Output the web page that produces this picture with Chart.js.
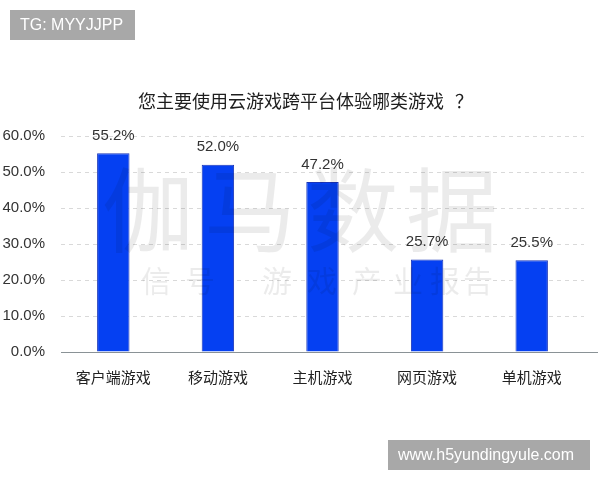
<!DOCTYPE html>
<html>
<head>
<meta charset="utf-8">
<script src="https://cdn.jsdelivr.net/npm/chart.js@4.4.0/dist/chart.umd.min.js"></script>
<style>
html,body{margin:0;padding:0;background:#fff;}
canvas{display:block;}
</style>
</head>
<body>
<canvas id="c" width="600" height="480"></canvas>
<script>
const categories = ['客户端游戏', '移动游戏', '主机游戏', '网页游戏', '单机游戏'];
const shares = [55.2, 52.0, 47.2, 25.7, 25.5];
const yTicks = [0, 10, 20, 30, 40, 50, 60];
const titleText = '您主要使用云游戏跨平台体验哪类游戏';
const titleMark = '？';
const tagText = 'TG: MYYJJPP';
const siteText = 'www.h5yundingyule.com';

const CJK = '"Noto Sans CJK SC", "Noto Sans", sans-serif';
const NUM = '"Liberation Sans", Arial, sans-serif';

const extras = {
  id: 'extras',
  beforeDraw(chart) {
    const ctx = chart.ctx;
    ctx.save();
    ctx.fillStyle = '#fff';
    ctx.fillRect(0, 0, chart.width, chart.height);
    ctx.restore();
  },
  afterDatasetsDraw(chart) {
    const ctx = chart.ctx;
    const meta = chart.getDatasetMeta(0);
    ctx.save();
    // data labels
    ctx.fillStyle = '#333';
    ctx.font = '15px ' + NUM;
    ctx.textAlign = 'center';
    ctx.textBaseline = 'bottom';
    meta.data.forEach((bar, i) => {
      ctx.fillText(shares[i].toFixed(1) + '%', bar.x, bar.y - 10);
    });
    // baseline extended
    const ys = chart.scales.y;
    const y0 = Math.round(ys.getPixelForValue(0)) + 0.5;
    ctx.strokeStyle = '#8a9296';
    ctx.lineWidth = 1.2;
    ctx.beginPath();
    ctx.moveTo(chart.chartArea.left, y0);
    ctx.lineTo(598, y0);
    ctx.stroke();
    // watermark
    ctx.fillStyle = 'rgba(0,0,0,0.08)';
    ctx.textBaseline = 'middle';
    ctx.font = '92px ' + CJK;
    const big = ['伽', '马', '数', '据'];
    const bigX = [148, 250, 353, 452];
    big.forEach((ch, i) => ctx.fillText(ch, bigX[i], 210));
    ctx.font = '30px ' + CJK;
    const small = ['信', '号', '游', '戏', '产', '业', '报', '告'];
    const smallX = [156, 200, 277, 322, 367, 408, 445, 478];
    small.forEach((ch, i) => ctx.fillText(ch, smallX[i], 281));
    ctx.restore();
  },
  afterDraw(chart) {
    const ctx = chart.ctx;
    ctx.save();
    // title
    ctx.fillStyle = '#1e1e1e';
    ctx.font = '18px ' + CJK;
    ctx.textAlign = 'left';
    ctx.textBaseline = 'middle';
    ctx.fillText(titleText, 138, 101);
    ctx.fillText(titleMark, 455, 101);
    // tag boxes
    ctx.fillStyle = '#a8a8a8';
    ctx.fillRect(10, 10, 125, 30);
    ctx.fillRect(388, 440, 202, 30);
    ctx.fillStyle = '#fff';
    ctx.font = '16px ' + NUM;
    ctx.textAlign = 'left';
    ctx.fillText(tagText, 20, 25.5);
    ctx.fillText(siteText, 398, 455.5);
    ctx.restore();
  }
};

new Chart(document.getElementById('c'), {
  type: 'bar',
  data: {
    labels: categories,
    datasets: [{
      data: shares,
      backgroundColor: '#0540f2',
      borderColor: '#1a35b8',
      borderWidth: 1,
      barPercentage: 0.31,
      categoryPercentage: 1.0
    }]
  },
  options: {
    responsive: false,
    animation: false,
    devicePixelRatio: 1,
    layout: { padding: { top: 136, right: 16, left: 0, bottom: 0 } },
    plugins: {
      legend: { display: false },
      title: { display: false },
      tooltip: { enabled: false }
    },
    scales: {
      x: {
        grid: { display: false, drawTicks: false },
        border: { display: false },
        ticks: {
          color: '#222',
          font: { family: CJK, size: 15 },
          padding: 16,
          maxRotation: 0
        },
        afterFit(s) { s.height = 128; }
      },
      y: {
        min: 0,
        max: 60,
        afterBuildTicks(s) { s.ticks = yTicks.map(v => ({ value: v })); },
        grid: {
          color: '#d9d9d9',
          drawTicks: false,
          lineWidth: 1
        },
        border: { display: false, dash: [4, 4] },
        ticks: {
          color: '#333',
          font: { family: NUM, size: 15 },
          padding: 16,
          callback: v => v.toFixed(1) + '%'
        },
        afterFit(s) { s.width = 61; }
      }
    }
  },
  plugins: [extras]
});
</script>
</body>
</html>
